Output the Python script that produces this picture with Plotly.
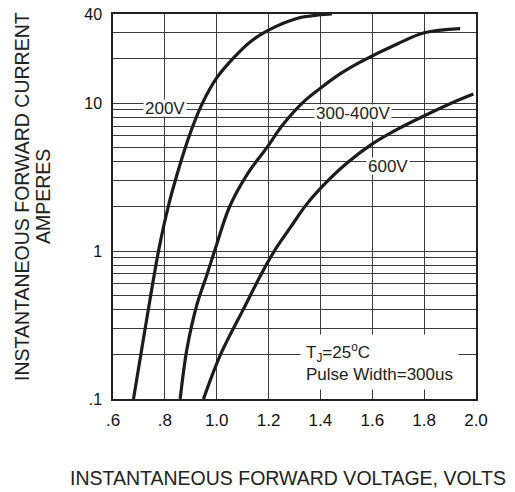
import math
import plotly.graph_objects as go

# ---- data ----
v_200 = [0.679, 0.728, 0.777, 0.814, 0.845, 0.879, 0.908, 0.945, 1.000, 1.065, 1.130, 1.200, 1.309, 1.444]
i_200 = [0.10, 0.33, 1.03, 2.03, 3.2, 5.0, 7.0, 10.0, 14.8, 20.2, 26.0, 31.1, 37.3, 40.0]

v_300_400 = [0.859, 0.885, 0.923, 0.962, 0.994, 1.050, 1.120, 1.194, 1.254, 1.330, 1.400, 1.477, 1.555, 1.700, 1.800, 1.939]
i_300_400 = [0.10, 0.217, 0.43, 0.69, 1.03, 2.0, 3.35, 5.02, 7.11, 10.0, 12.6, 15.8, 19.0, 25.3, 29.9, 31.9]

v_600 = [0.949, 1.015, 1.103, 1.172, 1.222, 1.285, 1.342, 1.400, 1.500, 1.600, 1.700, 1.800, 1.900, 1.990]
i_600 = [0.10, 0.20, 0.405, 0.70, 1.0, 1.45, 2.02, 2.65, 3.9, 5.3, 6.7, 8.2, 9.9, 11.5]

x_ticks = [0.6, 0.8, 1.0, 1.2, 1.4, 1.6, 1.8, 2.0]
x_ticktext = [".6", ".8", "1.0", "1.2", "1.4", "1.6", "1.8", "2.0"]

y_ticks = [0.1, 1, 10, 40]
y_ticktext = [".1", "1", "10", "40"]
y_minor = [0.2, 0.3, 0.4, 0.5, 0.6, 0.7, 0.8, 0.9,
           2, 3, 4, 5, 6, 7, 8, 9,
           20, 30]

series = [
    ("200V", v_200, i_200),
    ("300-400V", v_300_400, i_300_400),
    ("600V", v_600, i_600),
]

FONT = "Liberation Sans, Arial, sans-serif"
LINE = "#1c1c1c"
GRID = "#3c3c3c"

fig = go.Figure()
for name, xs, ys in series:
    fig.add_trace(go.Scatter(
        x=xs, y=ys, mode="lines", name=name,
        line=dict(color=LINE, width=3.2, shape="spline", smoothing=1.0),
        hoverinfo="skip", showlegend=False,
    ))

curve_labels = [
    ("200V", 0.802, 0.965, 14),
    ("300-400V", 1.527, 0.935, 14),
    ("600V", 1.661, 0.575, 14),
]
for txt, xv, yv, h in curve_labels:
    fig.add_annotation(
        x=xv, y=yv, xref="x", yref="y", text=txt, showarrow=False,
        font=dict(family=FONT, size=17, color="#222"),
        bgcolor="white", borderpad=1, height=h,
    )

fig.add_annotation(
    x=1.322, y=-0.751, xref="x", yref="y", xanchor="left", yanchor="middle",
    text="T<sub>J</sub>=25<sup>o</sup>C<br>Pulse Width=300us", align="left",
    showarrow=False, font=dict(family=FONT, size=17, color="#222"),
    bgcolor="white", borderpad=5,
)

# axis titles
fig.add_annotation(
    x=(22 - 113) / 363, y=(399 - 197) / 385, xref="paper", yref="paper",
    xanchor="center", yanchor="middle",
    text="INSTANTANEOUS FORWARD CURRENT", textangle=-90, showarrow=False,
    font=dict(family=FONT, size=19.5, color="#222"),
)
fig.add_annotation(
    x=(43 - 113) / 363, y=(399 - 197) / 385, xref="paper", yref="paper",
    xanchor="center", yanchor="middle",
    text="AMPERES", textangle=-90, showarrow=False,
    font=dict(family=FONT, size=19.5, color="#222"),
)
fig.add_annotation(
    x=(288 - 113) / 363, y=(399 - 478) / 385, xref="paper", yref="paper",
    xanchor="center", yanchor="middle",
    text="INSTANTANEOUS FORWARD VOLTAGE, VOLTS", showarrow=False,
    font=dict(family=FONT, size=19.5, color="#222"),
)

fig.update_layout(
    width=515, height=492,
    margin=dict(l=113, r=39, t=14, b=93, autoexpand=False),
    paper_bgcolor="white", plot_bgcolor="white",
    font=dict(family=FONT, color="#111"),
    xaxis=dict(
        range=[0.6, 2.0], tickvals=x_ticks, ticktext=x_ticktext, automargin=False,
        showgrid=True, gridcolor=GRID, gridwidth=1, zeroline=False,
        showline=True, linecolor="#222", linewidth=1.5, mirror=True,
        ticks="", tickfont=dict(family=FONT, size=17, color="#111"),
        ticklabelstandoff=5,
    ),
    yaxis=dict(
        type="log", range=[-1, math.log10(40)], tickvals=y_ticks, ticktext=y_ticktext,
        automargin=False,
        showgrid=True, gridcolor=GRID, gridwidth=1, zeroline=False,
        showline=True, linecolor="#222", linewidth=1.5, mirror=True,
        ticks="", tickfont=dict(family=FONT, size=16, color="#111"),
        ticklabelstandoff=6,
        minor=dict(tickvals=y_minor, showgrid=True, gridcolor=GRID, gridwidth=1, ticks=""),
    ),
)

fig.write_html(
    "out.html",
    config={"displayModeBar": False},
    post_script="document.body.style.margin='0';document.body.style.padding='0';",
)
